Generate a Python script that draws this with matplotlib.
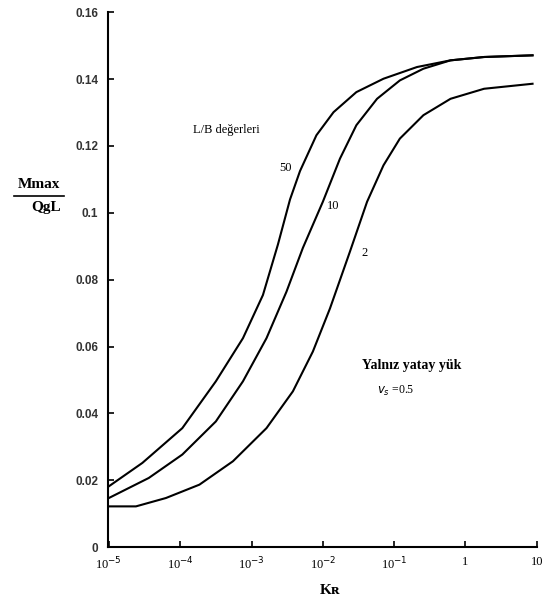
import numpy as np
import matplotlib
matplotlib.use("Agg")
import matplotlib.pyplot as plt

# log10(Kr) positions and Mmax/(QgL) values
logkr_50 = [-5.0, -4.53, -3.97, -3.50, -3.12, -2.84, -2.63, -2.46, -2.32, -2.09, -1.85,
            -1.53, -1.15, -0.68, -0.21, 0.26, 0.94]
m_50 = [0.0182, 0.0252, 0.0356, 0.0496, 0.0625, 0.0754, 0.0905, 0.1040, 0.1125, 0.1232, 0.1301,
        0.1361, 0.1401, 0.1436, 0.1456, 0.1466, 0.1471]

logkr_10 = [-5.0, -4.44, -3.97, -3.50, -3.12, -2.79, -2.51, -2.28, -2.0, -1.76, -1.53,
            -1.24, -0.92, -0.59, -0.21, 0.26, 0.94]
m_10 = [0.0147, 0.0207, 0.0277, 0.0376, 0.0496, 0.0625, 0.0764, 0.0895, 0.1033, 0.1162, 0.1262,
        0.1341, 0.1396, 0.1431, 0.1456, 0.1466, 0.1471]

logkr_2 = [-5.0, -4.62, -4.20, -3.73, -3.26, -2.79, -2.42, -2.14, -1.90, -1.62, -1.38,
           -1.15, -0.92, -0.59, -0.21, 0.26, 0.94]
m_2 = [0.0122, 0.0122, 0.0147, 0.0187, 0.0257, 0.0356, 0.0466, 0.0585, 0.0714, 0.0884, 0.1033,
       0.1142, 0.1222, 0.1292, 0.1341, 0.1371, 0.1386]

xtick_vals = [1e-5, 1e-4, 1e-3, 1e-2, 1e-1, 1, 10]
xtick_labels = ["10$^{-5}$", "10$^{-4}$", "10$^{-3}$", "10$^{-2}$", "10$^{-1}$", "1", "10"]
ytick_vals = [0, 0.02, 0.04, 0.06, 0.08, 0.10, 0.12, 0.14, 0.16]
ytick_labels = ["0", "0.02", "0.04", "0.06", "0.08", "0.1", "0.12", "0.14", "0.16"]

fig = plt.figure(figsize=(5.45, 6.10), dpi=100)
ax = fig.add_axes([0.198, 0.103, 0.787, 0.877])

for lk, m in [(logkr_50, m_50), (logkr_10, m_10), (logkr_2, m_2)]:
    ax.plot(10 ** np.array(lk), m, color="black", lw=1.5, solid_joinstyle="round")

ax.set_xscale("log")
ax.set_xlim(0.97e-5, 10)
ax.set_ylim(0, 0.16)
ax.set_xticks(xtick_vals)
ax.set_xticklabels(xtick_labels, fontsize=9, family="Liberation Serif")
ax.minorticks_off()
ax.set_yticks(ytick_vals)
ax.set_yticklabels(ytick_labels, fontsize=8.5, family="Liberation Sans", fontweight="bold", color="#333333")
ax.tick_params(axis="both", direction="in", length=4, width=1.2)
ax.tick_params(axis="x", pad=6)
ax.tick_params(axis="y", pad=7)
for s in ["top", "right"]:
    ax.spines[s].set_visible(False)
for s in ["left", "bottom"]:
    ax.spines[s].set_linewidth(1.5)

# y-axis label as a fraction
fig.text(39 / 545, 1 - 185 / 610, "Mmax", ha="center", va="center", fontsize=11,
         family="Liberation Serif", fontweight="bold")
fig.add_artist(plt.Line2D([14 / 545, 64 / 545], [1 - 196 / 610, 1 - 196 / 610], color="black", lw=1.2))
fig.text(46 / 545, 1 - 208 / 610, "QgL", ha="center", va="center", fontsize=11,
         family="Liberation Serif", fontweight="bold")

# x-axis label
fig.text(330 / 545, 1 - 591 / 610, "Kʀ", ha="center", va="center", fontsize=11,
         family="Liberation Serif", fontweight="bold")

tf = dict(transform=fig.transFigure, family="Liberation Serif")
ax.text(193 / 545, 1 - 130 / 610, "L/B değerleri", ha="left", va="center", fontsize=9, **tf)
ax.text(285 / 545, 1 - 168 / 610, "50", ha="center", va="center", fontsize=9, **tf)
ax.text(333 / 545, 1 - 206 / 610, "10", ha="center", va="center", fontsize=9, **tf)
ax.text(365 / 545, 1 - 253 / 610, "2", ha="center", va="center", fontsize=9, **tf)
ax.text(362 / 545, 1 - 365 / 610, "Yalnız yatay yük", ha="left", va="center", fontsize=10,
        fontweight="bold", **tf)
ax.text(377 / 545, 1 - 391 / 610, "$v_s$ =0.5", ha="left", va="center", fontsize=8.5, **tf)

fig.savefig("out.png", dpi=100)
